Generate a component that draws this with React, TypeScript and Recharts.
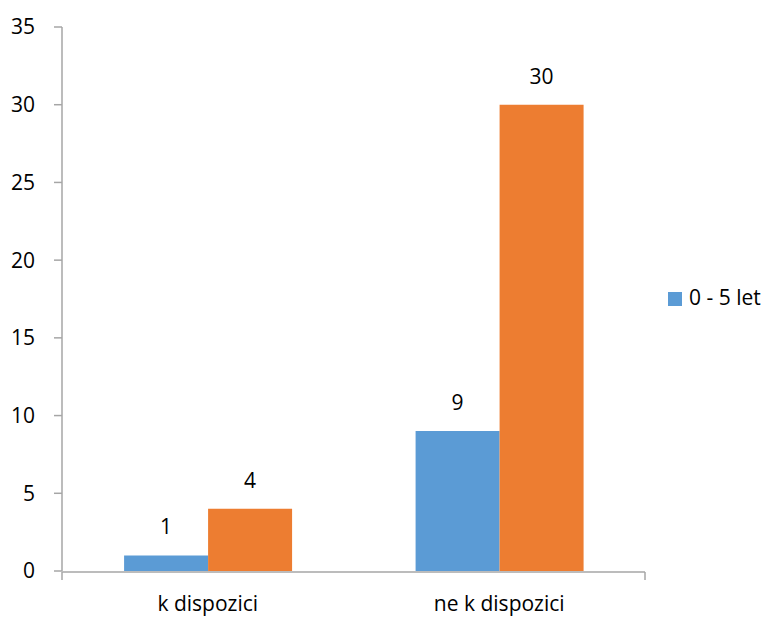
import React from 'react';
import { BarChart, Bar, XAxis, YAxis, Legend, LabelList } from 'recharts';

const categories = ['k dispozici', 'ne k dispozici'];
const seriesBlue = [1, 9];
const seriesOrange = [4, 30];
const yTicks = [0, 5, 10, 15, 20, 25, 30, 35];
const boundaryTicks = [0, 1, 2];

const data = categories.map((c, i) => ({ name: c, blue: seriesBlue[i], orange: seriesOrange[i] }));

const FONT = '"Open Sans", "Noto Sans", sans-serif';
const FS = 21;
const AXIS = '#A6A6A6';

export default function App() {
  return (
    <div style={{ position: 'absolute', left: 0, top: 0, width: 775, height: 618, background: '#fff' }}>
      <BarChart
        width={775}
        height={618}
        data={data}
        margin={{ top: 27, right: 130, bottom: 45, left: 0 }}
        barCategoryGap="21.3%"
        barGap={0}
        style={{ fontFamily: FONT }}
      >
        <XAxis
          xAxisId="edge"
          type="number"
          domain={[0, 2]}
          ticks={boundaryTicks}
          height={1}
          tickSize={8}
          tickFormatter={() => ''}
          axisLine={{ stroke: AXIS, strokeWidth: 1.5 }}
          tickLine={{ stroke: AXIS, strokeWidth: 1.5 }}
          allowDataOverflow
        />
        <XAxis
          xAxisId="cat"
          dataKey="name"
          height={1}
          tickSize={0}
          tickMargin={25}
          axisLine={false}
          tickLine={false}
          tick={{ fill: '#000', fontSize: FS, fontFamily: FONT }}
        />
        <YAxis
          width={62}
          domain={[0, 35]}
          ticks={yTicks}
          tickSize={8}
          tickMargin={19}
          axisLine={{ stroke: AXIS, strokeWidth: 1.5 }}
          tickLine={{ stroke: AXIS, strokeWidth: 1.5 }}
          tick={{ fill: '#000', fontSize: FS, fontFamily: FONT }}
          interval={0}
        />
        <Legend
          layout="vertical"
          align="center"
          verticalAlign="middle"
          iconType="square"
          iconSize={14}
          wrapperStyle={{ left: 668, top: 283, width: 'auto', fontSize: FS, fontFamily: FONT }}
          formatter={(v) => <span style={{ color: '#000', marginLeft: 3 }}>{v}</span>}
        />
        <Bar xAxisId="cat" dataKey="blue" name="0 - 5 let" fill="#5B9BD5" isAnimationActive={false}>
          <LabelList dataKey="blue" position="top" offset={21} fill="#000" fontSize={FS} fontFamily={FONT} />
        </Bar>
        <Bar xAxisId="cat" dataKey="orange" name=" " fill="#ED7D31" legendType="none" isAnimationActive={false}>
          <LabelList dataKey="orange" position="top" offset={21} fill="#000" fontSize={FS} fontFamily={FONT} />
        </Bar>
      </BarChart>
    </div>
  );
}
